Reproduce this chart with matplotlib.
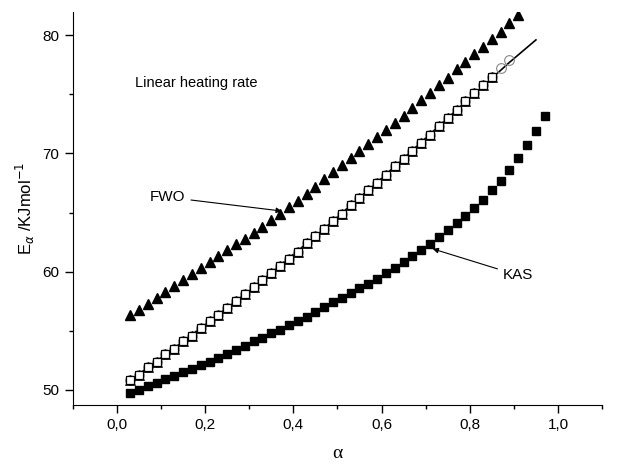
import matplotlib
matplotlib.use("Agg")
from matplotlib import pyplot as plt
from matplotlib.ticker import MultipleLocator, FuncFormatter

# FWO (filled triangles)
fwo_alpha = [0.03, 0.05, 0.07, 0.09, 0.11, 0.13, 0.15, 0.17, 0.19, 0.21,
             0.23, 0.25, 0.27, 0.29, 0.31, 0.33, 0.35, 0.37, 0.39, 0.41,
             0.43, 0.45, 0.47, 0.49, 0.51, 0.53, 0.55, 0.57, 0.59, 0.61,
             0.63, 0.65, 0.67, 0.69, 0.71, 0.73, 0.75, 0.77, 0.79, 0.81,
             0.83, 0.85, 0.87, 0.89, 0.91]
fwo_E = [56.3, 56.8, 57.3, 57.8, 58.3, 58.8, 59.3, 59.8, 60.3, 60.8,
         61.3, 61.8, 62.3, 62.8, 63.3, 63.8, 64.4, 64.9, 65.5, 66.0,
         66.6, 67.2, 67.8, 68.4, 69.0, 69.6, 70.2, 70.8, 71.4, 72.0,
         72.6, 73.2, 73.8, 74.5, 75.1, 75.8, 76.4, 77.1, 77.7, 78.4,
         79.0, 79.7, 80.3, 81.0, 81.7]

# open squares / open circles (middle series)
mid_alpha = [0.03, 0.05, 0.07, 0.09, 0.11, 0.13, 0.15, 0.17, 0.19, 0.21,
             0.23, 0.25, 0.27, 0.29, 0.31, 0.33, 0.35, 0.37, 0.39, 0.41,
             0.43, 0.45, 0.47, 0.49, 0.51, 0.53, 0.55, 0.57, 0.59, 0.61,
             0.63, 0.65, 0.67, 0.69, 0.71, 0.73, 0.75, 0.77, 0.79, 0.81,
             0.83, 0.85, 0.87, 0.89]
mid_E = [50.8, 51.3, 51.9, 52.4, 53.0, 53.5, 54.1, 54.6, 55.2, 55.8,
         56.3, 56.9, 57.5, 58.1, 58.7, 59.3, 59.9, 60.5, 61.1, 61.7,
         62.4, 63.0, 63.6, 64.3, 64.9, 65.6, 66.2, 66.9, 67.5, 68.2,
         68.9, 69.5, 70.2, 70.9, 71.6, 72.3, 73.0, 73.7, 74.4, 75.1,
         75.8, 76.5, 77.2, 77.9]
n_squares = 42

# fitted curve through the middle series
line_alpha = [0.03, 0.15, 0.30, 0.45, 0.60, 0.75, 0.89, 0.95]
line_E = [50.8, 54.1, 58.4, 63.0, 67.9, 73.0, 77.7, 79.6]

# KAS (filled squares)
kas_alpha = [0.03, 0.05, 0.07, 0.09, 0.11, 0.13, 0.15, 0.17, 0.19, 0.21,
             0.23, 0.25, 0.27, 0.29, 0.31, 0.33, 0.35, 0.37, 0.39, 0.41,
             0.43, 0.45, 0.47, 0.49, 0.51, 0.53, 0.55, 0.57, 0.59, 0.61,
             0.63, 0.65, 0.67, 0.69, 0.71, 0.73, 0.75, 0.77, 0.79, 0.81,
             0.83, 0.85, 0.87, 0.89, 0.91, 0.93, 0.95, 0.97]
kas_E = [49.7, 50.0, 50.3, 50.6, 50.9, 51.2, 51.5, 51.8, 52.1, 52.4,
         52.7, 53.0, 53.4, 53.7, 54.1, 54.4, 54.8, 55.1, 55.5, 55.8,
         56.2, 56.6, 57.0, 57.4, 57.8, 58.2, 58.6, 59.0, 59.4, 59.9,
         60.3, 60.8, 61.3, 61.8, 62.3, 62.9, 63.5, 64.1, 64.7, 65.4,
         66.1, 66.9, 67.7, 68.6, 69.6, 70.7, 71.9, 73.2]

plt.rcParams['font.family'] = ['Liberation Sans', 'DejaVu Sans']

fig = plt.figure(figsize=(6.22, 4.66), dpi=100)
ax = fig.add_axes([0.117, 0.131, 0.851, 0.843])

ax.plot(line_alpha, line_E, color='black', lw=1.2, zorder=2)
ax.plot(mid_alpha, mid_E, ls='none', marker='o', ms=7, mfc='none',
        mec='#888888', mew=0.8, zorder=3)
ax.plot(mid_alpha[:n_squares], mid_E[:n_squares], ls='none', marker='^', ms=7.5,
        mfc='none', mec='black', mew=0.6, zorder=3)
ax.plot(mid_alpha[:n_squares], mid_E[:n_squares], ls='none', marker='s', ms=6,
        mfc='white', mec='black', mew=0.9, zorder=4)
ax.plot(fwo_alpha, fwo_E, ls='none', marker='^', ms=7.5, color='black', zorder=4)
ax.plot(kas_alpha, kas_E, ls='none', marker='s', ms=6, color='black', zorder=4)

ax.set_xlim(-0.1, 1.1)
ax.set_ylim(48.73, 81.95)
ax.xaxis.set_major_locator(MultipleLocator(0.2))
ax.xaxis.set_minor_locator(MultipleLocator(0.1))
ax.yaxis.set_major_locator(MultipleLocator(10))
ax.yaxis.set_minor_locator(MultipleLocator(5))
ax.xaxis.set_major_formatter(FuncFormatter(lambda v, p: f"{v:.1f}".replace('.', ',').replace('-0,0', '0,0')))
ax.spines['top'].set_visible(False)
ax.spines['right'].set_visible(False)
ax.tick_params(which='major', direction='out', length=6, width=1, labelsize=11)
ax.tick_params(which='minor', direction='out', length=3, width=1)

ax.set_xlabel('α', fontsize=14, labelpad=9, family=['Liberation Serif', 'DejaVu Serif'])
ax.set_ylabel(r'E$_\alpha$ /KJmol$^{-1}$', fontsize=12)

ax.text(0.04, 75.6, 'Linear heating rate', fontsize=10.5)
ax.annotate('FWO', xy=(0.38, 65.1), xytext=(0.075, 66.3), fontsize=11,
            va='center', arrowprops=dict(arrowstyle='-|>', color='black', lw=0.8,
                                         mutation_scale=8))
ax.annotate('KAS', xy=(0.71, 62.0), xytext=(0.875, 59.7), fontsize=11,
            va='center', arrowprops=dict(arrowstyle='-|>', color='black', lw=0.8,
                                         mutation_scale=8))

fig.savefig('out.png', dpi=100)
